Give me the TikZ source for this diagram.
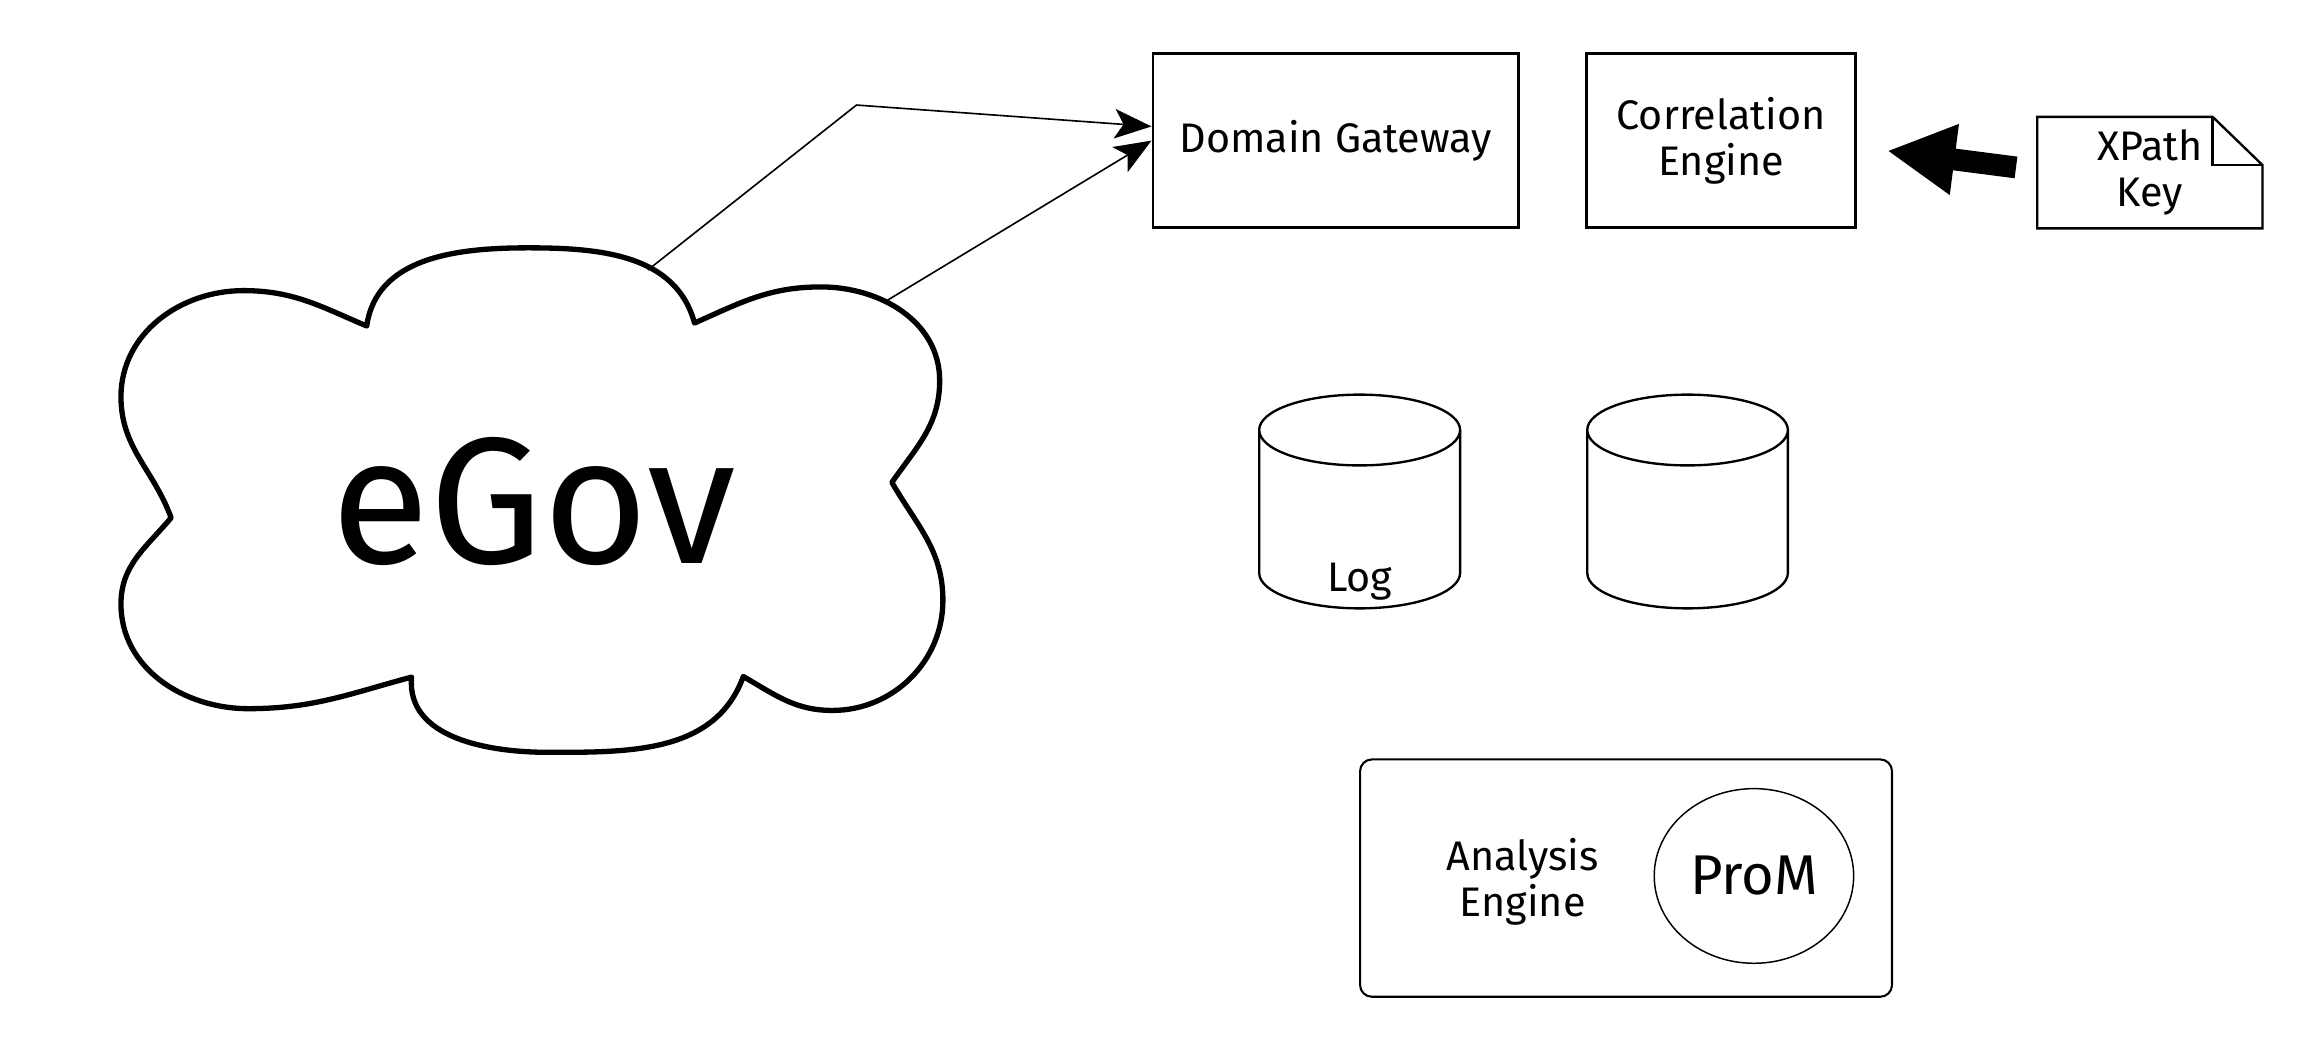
\documentclass[tikz,border=0pt]{standalone}
\usepackage{fontspec}
\setmainfont{Fira Sans}
\usetikzlibrary{arrows.meta,calc,shapes.geometric}
\begin{document}
\begin{tikzpicture}[x=0.5pt,y=0.5pt,
  lbl/.style={font=\fontsize{14}{15.7}\selectfont, align=center, inner sep=0pt},
  box/.style={lbl, draw, line width=1pt, minimum height=59.1pt},
  notebox/.style={lbl, minimum width=75.95pt, minimum height=37.4pt},
  noteline/.style={line width=0.8pt, line join=miter},
  cylline/.style={line width=0.8pt, fill=white},
  cloudline/.style={line width=1.8pt, line join=round, fill=white},
  conn/.style={line width=0.55pt, -{Stealth[length=12.5pt,width=10pt,inset=3pt]}},
  bigarrow/.style={line width=7.4pt, -{Triangle[length=23pt,width=22.5pt]}},
  roundbox/.style={draw, line width=0.7pt, rounded corners=4pt, minimum width=180.3pt, minimum height=80.45pt},
  promnode/.style={draw, ellipse, line width=0.5pt, minimum width=67.6pt, minimum height=59.2pt, inner sep=0pt, font=\fontsize{19}{20}\selectfont}
]
\useasboundingbox[fill=white] (0,0) rectangle (1568,-714.5);

% cloud
\draw[cloudline] (116,-351)
 to[out=110,in=-90] (82,-269)
 to[out=90,in=180] (165,-197)
 to[out=0,in=157] (248.6,-221)
 to[out=82,in=180] (358,-168)
 to[out=0,in=105] (470.8,-219)
 to[out=24,in=180] (556.5,-194.5)
 to[out=0,in=90] (637,-258)
 to[out=-90,in=55] (604.6,-327)
 to[out=-60,in=90] (639.2,-407)
 to[out=-90,in=0] (564.2,-481.6)
 to[out=180,in=-30] (503.9,-458.6)
 to[out=-110,in=0] (372,-510)
 to[out=180,in=-95] (279,-459)
 to[out=195,in=0] (168.4,-480.4)
 to[out=180,in=-90] (82,-409.4)
 to[out=90,in=-130] (116,-351) -- cycle;
\node[anchor=base, inner sep=0pt, font=\fontsize{61}{61}\selectfont] (egov) at (362,-382) {eGov};

% top boxes
\node[box, minimum width=123.9pt] (dg) at (905.5,-95.3) {Domain Gateway};
\node[box, minimum width=90.95pt] (ce) at (1166.7,-95.3) {Correlation\\Engine};
\node[notebox] (note) at (1457.4,-117) {XPath\\Key};
\draw[noteline] (note.north west) -- ([xshift=-16.9pt]note.north east)
  -- ([yshift=-16.35pt]note.north east) -- (note.south east) -- (note.south west) -- cycle;
\draw[noteline] ([xshift=-16.9pt]note.north east) |- ([yshift=-16.35pt]note.north east);

% connectors
\coordinate (c1) at (439.2,-183);
\coordinate (c2) at (600,-204.5);
\coordinate (bend) at (580.6,-71.2);
\draw[conn] (c1) -- (bend) -- ([yshift=4.8pt]dg.west);
\draw[conn] (c2) -- (dg.west);
\draw[bigarrow] ([xshift=-7.2pt,yshift=1.75pt]note.west) -- ([xshift=10.3pt,yshift=-3.45pt]ce.east);

% cylinders
\draw[cylline] (853.6,-291.5) -- (853.6,-388.4) arc[start angle=180,end angle=360,x radius=68.1,y radius=24] -- (989.8,-291.5);
\draw[cylline] (921.7,-291.5) ellipse[x radius=68.1,y radius=24];
\node[lbl, anchor=base] (logtext) at (921.7,-401.1) {Log};
\draw[cylline] (1076,-291.5) -- (1076,-388.4) arc[start angle=180,end angle=360,x radius=68,y radius=24] -- (1212,-291.5);
\draw[cylline] (1144,-291.5) ellipse[x radius=68,y radius=24];

% analysis engine
\node[roundbox] (ae) at (1102.3,-595.25) {};
\node[lbl] (aetext) at (1032.2,-597.7) {Analysis\\Engine};
\node[promnode] (prom) at (1189,-593.8) {ProM};
\end{tikzpicture}
\end{document}
